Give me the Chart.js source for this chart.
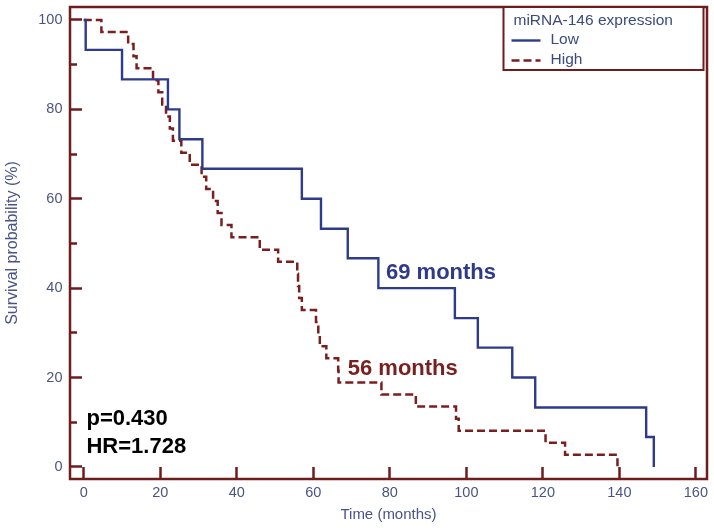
<!DOCTYPE html>
<html>
<head>
<meta charset="utf-8">
<title>Survival by miRNA-146 expression</title>
<script src="https://cdn.jsdelivr.net/npm/chart.js@4"></script>
<style>
  html, body { margin: 0; padding: 0; background: #ffffff; }
  #wrap { width: 714px; height: 528px; }
</style>
</head>
<body>
<div id="wrap"><canvas id="kmChart" width="714" height="528"></canvas></div>
<script>
// Kaplan-Meier steps (time in months, survival in %)
const lowTimes = [0, 0.5, 10, 22, 25, 31, 57, 62, 69, 77, 97, 103, 112, 118, 147, 149];
const lowSurvival = [100, 93.3, 86.7, 80, 73.3, 66.7, 60, 53.3, 46.7, 40, 33.3, 26.7, 20, 13.3, 6.7, 0];

const highTimes = [0, 4.6, 11.6, 13, 13.8, 18.1, 19.5, 20.5, 21.5, 22.5, 23.3, 25.5, 27.7, 30.8, 32, 33.8, 35, 36,
    38.6, 46, 50.8, 55.8, 56, 56.3, 57, 60.7, 61.3, 61.7, 63.4, 66.5, 66.6, 77.8, 86.8, 97.3, 98, 120.7, 125.8, 139.5];
const highSurvival = [100, 97.3, 94.6, 91.9, 89.2, 86.5, 83.8, 81.1, 78.4, 75.7, 73.0, 70.3, 67.6, 64.9, 62.2, 59.5, 56.8, 54.1,
    51.4, 48.6, 45.9, 43.2, 40.5, 37.8, 35.1, 32.4, 29.7, 27.0, 24.3, 21.6, 18.9, 16.2, 13.5, 10.8, 8.1, 5.4, 2.7, 0];

const seriesLabels = ["Low", "High"];
const legendTitle = "miRNA-146 expression";

const xTicks = [0, 20, 40, 60, 80, 100, 120, 140, 160];
const yTicks = [0, 20, 40, 60, 80, 100];
const yMinorTicks = [10, 30, 50, 70, 90];

// text placed on the plot, anchored in data units
const notes = [
    { text: "69 months", x: 79, y: 42, color: "#2e3a8a" },
    { text: "56 months", x: 69, y: 20.6, color: "#7a1f1f" },
    { text: "p=0.430", x: 0.7, y: 9.4, color: "#000000" },
    { text: "HR=1.728", x: 0.7, y: 3.2, color: "#000000" }
];

const BLUE = "#2e3a8a";
const MAROON = "#6e1c1c";
const LABEL = "#4a5484";

Chart.defaults.font.family = "'Liberation Sans', Arial, sans-serif";

// --- frame around the plot area ---
const framePlugin = {
    id: "frame",
    afterDatasetsDraw(chart) {
        const { ctx, chartArea: a } = chart;
        ctx.save();
        ctx.strokeStyle = MAROON;
        ctx.lineWidth = 2.5;
        ctx.strokeRect(a.left, a.top, a.right - a.left, a.bottom - a.top);
        ctx.restore();
    }
};

// --- notes (median survival, p, HR) ---
const notesPlugin = {
    id: "notes",
    afterDatasetsDraw(chart) {
        const { ctx } = chart;
        const xs = chart.scales.x, ys = chart.scales.y;
        ctx.save();
        ctx.font = "bold 22px 'Liberation Sans', Arial, sans-serif";
        ctx.textAlign = "left";
        ctx.textBaseline = "alphabetic";
        notes.forEach(n => {
            ctx.fillStyle = n.color;
            ctx.fillText(n.text, xs.getPixelForValue(n.x), ys.getPixelForValue(n.y));
        });
        ctx.restore();
    }
};

// --- boxed legend in the top right corner ---
const boxLegendPlugin = {
    id: "boxLegend",
    afterDraw(chart) {
        const { ctx, chartArea: a } = chart;
        const right = a.right - 3.5, top = a.top, w = 200, h = 63;
        const left = right - w;
        ctx.save();
        ctx.strokeStyle = MAROON;
        ctx.lineWidth = 2;
        ctx.fillStyle = "#ffffff";
        ctx.fillRect(left, top, w, h);
        ctx.strokeRect(left, top, w, h);

        ctx.font = "15.5px 'Liberation Sans', Arial, sans-serif";
        ctx.textBaseline = "middle";
        ctx.fillStyle = "#3c4a7c";
        ctx.fillText(legendTitle, left + 10, top + 14);

        chart.data.datasets.forEach((ds, i) => {
            const y = top + 33.5 + i * 20;
            ctx.strokeStyle = ds.borderColor;
            ctx.lineWidth = 2.4;
            ctx.setLineDash(ds.borderDash || []);
            ctx.beginPath();
            ctx.moveTo(left + 8, y);
            ctx.lineTo(left + 37, y);
            ctx.stroke();
            ctx.setLineDash([]);
            ctx.fillStyle = "#3c4a7c";
            ctx.fillText(ds.label, left + 47, y - 1);
        });
        ctx.restore();
    }
};

const toPoints = (xs, ys) => xs.map((t, i) => ({ x: t, y: ys[i] }));
const setTicks = list => scale => { scale.ticks = list.map(v => ({ value: v })); };
// fixed axis box sizes, and no extra room for the end labels
const fixSize = (w, h) => s => {
    if (w !== null) s.width = w;
    if (h !== null) s.height = h;
    s.paddingTop = 0;
    s.paddingBottom = 0;
    s.paddingLeft = 0;
    s.paddingRight = 0;
};

new Chart(document.getElementById("kmChart"), {
    type: "line",
    data: {
        datasets: [
            {
                label: seriesLabels[0],
                data: toPoints(lowTimes, lowSurvival),
                stepped: "before",
                borderColor: BLUE,
                borderWidth: 2.4,
                pointRadius: 0,
                fill: false
            },
            {
                label: seriesLabels[1],
                data: toPoints(highTimes, highSurvival),
                stepped: "before",
                borderColor: "#7a1f1f",
                borderWidth: 2.5,
                borderDash: [8, 4],
                pointRadius: 0,
                fill: false
            }
        ]
    },
    options: {
        responsive: false,
        devicePixelRatio: 1,
        animation: false,
        layout: { padding: { top: 7, right: 7, left: 0, bottom: 0 } },
        plugins: {
            legend: { display: false },
            tooltip: { enabled: false }
        },
        scales: {
            x: {
                type: "linear",
                min: -3.6,
                max: 162.9,
                afterBuildTicks: setTicks(xTicks),
                afterFit: fixSize(null, 49),
                border: { display: false },
                grid: { drawOnChartArea: false, tickLength: -12, tickWidth: 2.5, tickColor: MAROON },
                ticks: { padding: 17, color: LABEL, font: { size: 14.5 } },
                title: { display: true, text: "Time (months)", color: LABEL, font: { size: 15 }, padding: { top: 0, bottom: 4 } }
            },
            y: {
                type: "linear",
                position: "left",
                weight: 1,
                min: -2.7,
                max: 102.9,
                afterBuildTicks: setTicks(yTicks),
                afterFit: fixSize(70, null),
                border: { display: false },
                grid: { drawOnChartArea: false, tickLength: -12, tickWidth: 2.5, tickColor: MAROON },
                ticks: { padding: 19.5, color: LABEL, font: { size: 14.5 } },
                title: { display: true, text: "Survival probability (%)", color: LABEL, font: { size: 16 }, padding: { top: 3, bottom: 0 } }
            },
            yMinor: {
                type: "linear",
                position: "left",
                weight: 0,
                min: -2.7,
                max: 102.9,
                afterBuildTicks: setTicks(yMinorTicks),
                afterFit: fixSize(0, null),
                border: { display: false },
                grid: { drawOnChartArea: false, tickLength: -7, tickWidth: 2.5, tickColor: MAROON },
                ticks: { display: false }
            }
        }
    },
    plugins: [framePlugin, notesPlugin, boxLegendPlugin]
});
</script>
</body>
</html>
